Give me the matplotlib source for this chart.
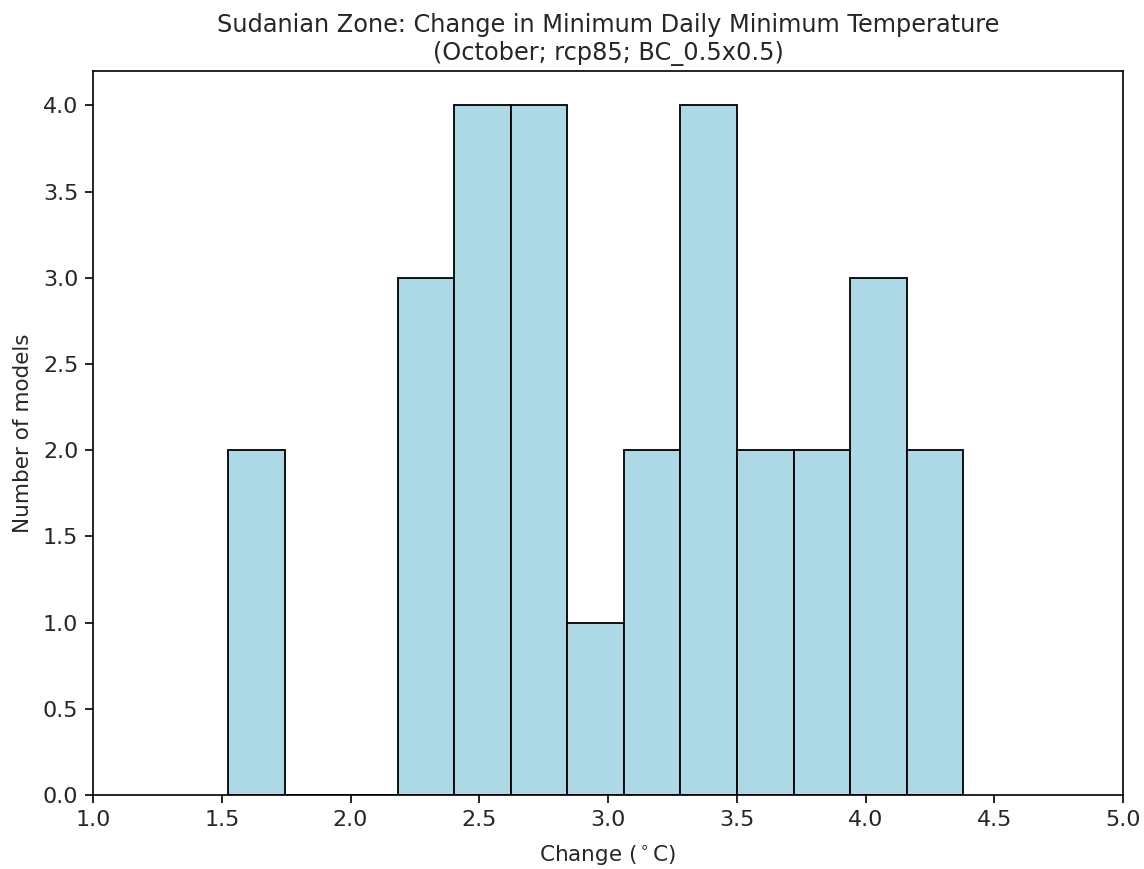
import numpy as np
import matplotlib
matplotlib.use('Agg')
import matplotlib.pyplot as plt

# histogram bins (deg C) and counts per bin
bin_edges = [1.524, 1.744, 1.963, 2.183, 2.403, 2.622, 2.842, 3.062,
             3.281, 3.501, 3.721, 3.940, 4.160, 4.379]
counts = [2, 0, 0, 3, 4, 4, 1, 2, 4, 2, 2, 3, 2]

title = 'Sudanian Zone: Change in Minimum Daily Minimum Temperature\n(October; rcp85; BC_0.5x0.5)'

plt.rcParams['font.family'] = ['DejaVu Sans']
plt.rcParams['font.size'] = 15

fig = plt.figure(figsize=(11.44, 8.69), dpi=100)
ax = fig.add_axes([0.0813, 0.0852, 0.9004, 0.8331])

edges = np.array(bin_edges)
ax.bar(edges[:-1], counts, width=np.diff(edges), align='edge',
       color='lightblue', edgecolor='black', linewidth=1.3)

ax.set_xlim(1.0, 5.0)
ax.set_ylim(0, 4.2)
ax.set_xticks(np.arange(1.0, 5.01, 0.5))
ax.set_yticks(np.arange(0, 4.01, 0.5))
ax.tick_params(labelsize=16, length=5.5, width=1.2, pad=5, colors='#262626')
ax.tick_params(color='black')
for s in ax.spines.values():
    s.set_linewidth(1.2)
ax.xaxis.set_major_formatter(matplotlib.ticker.FormatStrFormatter('%.1f'))
ax.yaxis.set_major_formatter(matplotlib.ticker.FormatStrFormatter('%.1f'))
ax.set_xlabel(r'Change ($^\circ$C)', fontsize=15.5, labelpad=10, color='#262626')
ax.set_ylabel('Number of models', fontsize=15.5, labelpad=7, color='#262626')
ax.set_title(title, fontsize=17.3, pad=8, color='#262626')

fig.savefig('out.png', dpi=100)
